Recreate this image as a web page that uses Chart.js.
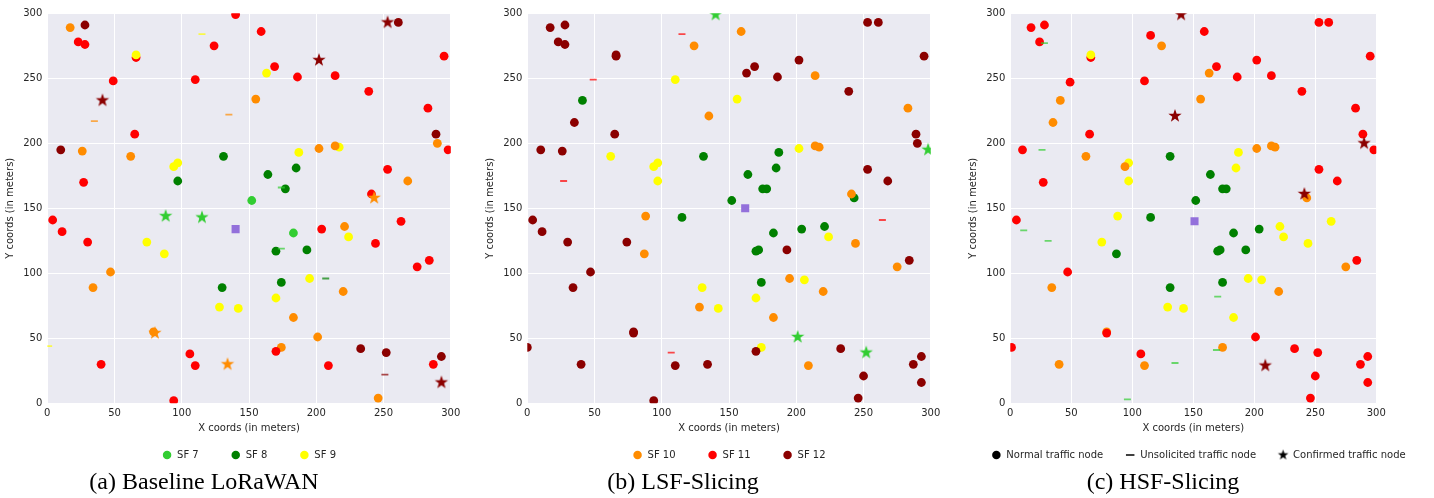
<!DOCTYPE html>
<html>
<head>
<meta charset="utf-8">
<script src="https://cdn.jsdelivr.net/npm/chart.js@4.4.1/dist/chart.umd.min.js"></script>
<style>
  body { margin: 0; background: #fff; width: 1434px; height: 498px; position: relative; overflow: hidden; }
  canvas { position: absolute; top: 0; }
  .cap { position: absolute; top: 466px; width: 400px; text-align: center; font-family: 'Liberation Serif', serif; font-size: 24px; line-height: 30px; color: #000; }
</style>
</head>
<body>
<canvas id="baseline" width="470" height="470" style="left:0px"></canvas>
<canvas id="lsf" width="470" height="470" style="left:480px"></canvas>
<canvas id="hsf" width="471" height="470" style="left:963px"></canvas>
<div class="cap" style="left:4px">(a) Baseline LoRaWAN</div>
<div class="cap" style="left:483px">(b) LSF-Slicing</div>
<div class="cap" style="left:963px">(c) HSF-Slicing</div>
<script>
// node = [x, y, spreading factor, kind]   kind: n = normal, u = unsolicited, c = confirmed
const baselineNodes = [
  [17,289,10,'n'], [28,291,12,'n'], [23,278,11,'n'], [28,276,11,'n'], [66,266,11,'n'], [66,268,9,'n'],
  [115,284,9,'u'], [124,275,11,'n'], [140,299,11,'n'], [49,248,11,'n'], [110,249,11,'n'], [41,233,12,'c'],
  [35,217,10,'u'], [135,222,10,'u'], [155,234,10,'n'], [65,207,11,'n'], [10,195,12,'n'], [26,194,10,'n'],
  [62,190,10,'n'], [97,185,9,'n'], [94,182,9,'n'], [131,190,8,'n'], [97,171,8,'n'], [27,170,11,'n'],
  [152,156,7,'n'], [159,286,11,'n'], [169,259,11,'n'], [163,254,9,'n'], [186,251,11,'n'], [202,264,12,'c'],
  [214,252,11,'n'], [253,293,12,'c'], [261,293,12,'n'], [295,267,11,'n'], [239,240,11,'n'], [283,227,11,'n'],
  [289,207,12,'n'], [290,200,10,'n'], [298,195,11,'n'], [187,193,9,'n'], [202,196,10,'n'], [217,197,9,'n'],
  [214,198,10,'n'], [164,176,8,'n'], [185,181,8,'n'], [174,166,7,'u'], [177,165,8,'n'], [253,180,11,'n'],
  [268,171,10,'n'], [241,161,11,'n'], [243,158,10,'c'],
  [4,141,11,'n'], [11,132,11,'n'], [30,124,11,'n'], [88,144,7,'c'], [115,143,7,'c'], [74,124,9,'n'],
  [87,115,9,'n'], [47,101,10,'n'], [34,89,10,'n'], [130,89,8,'n'], [128,74,9,'n'], [142,73,9,'n'],
  [79,55,10,'n'], [80,54,10,'c'], [1,44,9,'u'], [40,30,11,'n'], [106,38,11,'n'], [110,29,11,'n'],
  [134,30,10,'c'], [94,2,11,'n'],
  [183,131,7,'n'], [204,134,11,'n'], [221,136,10,'n'], [224,128,9,'n'], [263,140,11,'n'], [244,123,11,'n'],
  [284,110,11,'n'], [275,105,11,'n'], [170,117,8,'n'], [174,119,7,'u'], [193,118,8,'n'], [174,93,8,'n'],
  [195,96,9,'n'], [207,96,8,'u'], [170,81,9,'n'], [220,86,10,'n'], [183,66,10,'n'], [201,51,10,'n'],
  [174,43,10,'n'], [170,40,11,'n'], [209,29,11,'n'], [233,42,12,'n'], [252,39,12,'n'], [251,22,12,'u'],
  [246,4,10,'n'], [287,30,11,'n'], [293,36,12,'n'], [293,16,12,'c']
];
const lsfNodes = [
  [17,289,12,'n'], [28,291,12,'n'], [23,278,12,'n'], [28,276,12,'n'], [66,267,12,'n'], [66,268,12,'n'],
  [115,284,11,'u'], [124,275,10,'n'], [140,299,7,'c'], [49,249,11,'u'], [110,249,9,'n'], [41,233,8,'n'],
  [156,234,9,'n'], [135,221,10,'n'], [35,216,12,'n'], [65,207,12,'n'], [10,195,12,'n'], [26,194,12,'n'],
  [27,171,11,'u'], [62,190,9,'n'], [97,185,9,'n'], [94,182,9,'n'], [97,171,9,'n'], [131,190,8,'n'],
  [152,156,8,'n'], [159,286,10,'n'], [169,259,12,'n'], [163,254,12,'n'], [186,251,12,'n'], [202,264,12,'n'],
  [214,252,10,'n'], [253,293,12,'n'], [261,293,12,'n'], [295,267,12,'n'], [239,240,12,'n'], [283,227,10,'n'],
  [289,207,12,'n'], [290,200,12,'n'], [298,195,7,'c'], [187,193,8,'n'], [202,196,9,'n'], [214,198,10,'n'],
  [217,197,10,'n'], [164,176,8,'n'], [185,181,8,'n'], [175,165,8,'n'], [178,165,8,'n'], [253,180,12,'n'],
  [268,171,12,'n'], [243,158,8,'n'], [241,161,10,'n'],
  [4,141,12,'n'], [11,132,12,'n'], [30,124,12,'n'], [88,144,10,'n'], [115,143,8,'n'], [74,124,12,'n'],
  [87,115,10,'n'], [47,101,12,'n'], [34,89,12,'n'], [130,89,9,'n'], [128,74,10,'n'], [142,73,9,'n'],
  [79,55,12,'n'], [79,54,12,'n'], [0,43,12,'n'], [40,30,12,'n'], [107,39,11,'u'], [110,29,12,'n'],
  [134,30,12,'n'], [94,2,12,'n'],
  [183,131,8,'n'], [204,134,8,'n'], [221,136,8,'n'], [224,128,9,'n'], [264,141,11,'u'], [244,123,10,'n'],
  [284,110,12,'n'], [275,105,10,'n'], [170,117,8,'n'], [172,118,8,'n'], [193,118,12,'n'], [174,93,8,'n'],
  [195,96,10,'n'], [206,95,9,'n'], [170,81,9,'n'], [220,86,10,'n'], [183,66,10,'n'], [201,51,7,'c'],
  [252,39,7,'c'], [174,43,9,'n'], [170,40,12,'n'], [209,29,10,'n'], [233,42,12,'n'], [250,21,12,'n'],
  [246,4,12,'n'], [287,30,12,'n'], [293,36,12,'n'], [293,16,12,'n']
];
const hsfNodes = [
  [17,289,11,'n'], [28,291,11,'n'], [24,278,11,'n'], [28,277,7,'u'], [66,266,11,'n'], [66,268,9,'n'],
  [115,283,11,'n'], [124,275,10,'n'], [140,299,12,'c'], [49,247,11,'n'], [110,248,11,'n'], [41,233,10,'n'],
  [135,221,12,'c'], [35,216,10,'n'], [65,207,11,'n'], [10,195,11,'n'], [26,195,7,'u'], [62,190,10,'n'],
  [97,185,9,'n'], [94,182,10,'n'], [97,171,9,'n'], [131,190,8,'n'], [27,170,11,'n'], [152,156,8,'n'],
  [159,286,11,'n'], [169,259,11,'n'], [163,254,10,'n'], [186,251,11,'n'], [202,264,11,'n'], [214,252,11,'n'],
  [253,293,11,'n'], [261,293,11,'n'], [295,267,11,'n'], [156,234,10,'n'], [239,240,11,'n'], [283,227,11,'n'],
  [289,207,11,'n'], [290,200,12,'c'], [298,195,11,'n'], [187,193,9,'n'], [202,196,10,'n'], [214,198,10,'n'],
  [217,197,10,'n'], [164,176,8,'n'], [185,181,9,'n'], [174,165,8,'n'], [177,165,8,'n'], [253,180,11,'n'],
  [268,171,11,'n'], [241,161,12,'c'], [243,158,10,'n'],
  [5,141,11,'n'], [11,133,7,'u'], [31,125,7,'u'], [88,144,9,'n'], [115,143,8,'n'], [75,124,9,'n'],
  [87,115,8,'n'], [47,101,11,'n'], [34,89,10,'n'], [131,89,8,'n'], [129,74,9,'n'], [142,73,9,'n'],
  [79,55,10,'n'], [79,54,11,'n'], [1,43,11,'n'], [40,30,10,'n'], [107,38,11,'n'], [110,29,10,'n'],
  [135,31,7,'u'], [96,3,7,'u'],
  [183,131,8,'n'], [204,134,8,'n'], [221,136,9,'n'], [224,128,9,'n'], [263,140,9,'n'], [244,123,9,'n'],
  [284,110,11,'n'], [275,105,10,'n'], [170,117,8,'n'], [172,118,8,'n'], [193,118,8,'n'], [174,93,8,'n'],
  [195,96,9,'n'], [206,95,9,'n'], [170,82,7,'u'], [220,86,10,'n'], [183,66,9,'n'], [201,51,11,'n'],
  [169,41,7,'u'], [174,43,10,'n'], [233,42,11,'n'], [252,39,11,'n'], [209,29,12,'c'], [250,21,11,'n'],
  [246,4,11,'n'], [287,30,11,'n'], [293,36,11,'n'], [293,16,11,'n']
];
const baselineGateway = [140, 134];
const lsfGateway = [162, 150];
const hsfGateway = [151, 140];

const baselineLegendSF = [7, 8, 9];
const lsfLegendSF = [10, 11, 12];
const nodeKinds = ['n', 'u', 'c'];
const nodeKindLabels = ['Normal traffic node', 'Unsolicited traffic node', 'Confirmed traffic node'];

const sfColor = { 7: '#32CD32', 8: '#008000', 9: '#FFFF00', 10: '#FF8C00', 11: '#FF0000', 12: '#8B0000' };
const sfDash = { 7: 'rgba(50,205,50,0.7)', 8: 'rgba(0,128,0,0.7)', 9: 'rgba(255,255,0,0.7)',
                 10: 'rgba(255,140,0,0.7)', 11: 'rgba(255,0,0,0.7)', 12: 'rgba(139,0,0,0.7)' };
const TEXT = '#262626';

// filled five point star, chart.js's own 'star' is only a cross
function starImage(color, r) {
  const size = Math.ceil(r * 2 + 2);
  const c = document.createElement('canvas');
  c.width = c.height = size;
  const g = c.getContext('2d');
  g.fillStyle = color;
  g.beginPath();
  for (let i = 0; i < 10; i++) {
    const rad = i % 2 === 0 ? r : r * 0.4;
    const a = -Math.PI / 2 + i * Math.PI / 5;
    const px = size / 2 + rad * Math.cos(a), py = size / 2 + rad * Math.sin(a);
    if (i === 0) g.moveTo(px, py); else g.lineTo(px, py);
  }
  g.closePath();
  g.fill();
  return c;
}
const stars = {};
Object.keys(sfColor).forEach(sf => { stars[sf] = starImage(sfColor[sf], 7); });
const legendStar = starImage('#000', 5.5);

Chart.defaults.font.family = "'DejaVu Sans', sans-serif";
Chart.defaults.font.size = 10;
Chart.defaults.color = TEXT;

const plotBg = {
  id: 'plotBg',
  beforeDraw(chart) {
    const { ctx, chartArea: a } = chart;
    ctx.save();
    ctx.fillStyle = '#EAEAF2';
    ctx.fillRect(a.left, a.top, a.width, a.height);
    ctx.restore();
  }
};

function sfLegend(list) {
  return list.map(sf => ({
    label: 'SF ' + sf, data: [], pointStyle: 'circle',
    pointBackgroundColor: sfColor[sf], pointBorderColor: sfColor[sf], pointBorderWidth: 0
  }));
}
function kindLegend() {
  const styles = { n: 'circle', u: 'line', c: legendStar };
  return nodeKinds.map((k, i) => ({
    label: nodeKindLabels[i], data: [], pointStyle: styles[k],
    pointBackgroundColor: '#000', pointBorderColor: '#000', pointBorderWidth: k === 'u' ? 1.5 : 0
  }));
}

// legend gap doubles as its top padding, so the x axis box shrinks to keep the legend row at y=455
function makeChart(id, nodes, gateway, legendSets, wide, gap) {
  const pick = kind => nodes.filter(n => n[3] === kind).map(n => ({ x: n[0], y: n[1], sf: n[2] }));
  const datasets = [
    { label: '', data: pick('c'), pointStyle: c => (c.raw ? stars[c.raw.sf] : 'circle'),
      pointRadius: 7, pointBorderWidth: 0, clip: 0 },
    { label: '', data: pick('u'), pointStyle: 'line', pointRadius: 3.5, pointBorderWidth: 1.8,
      pointBorderColor: c => (c.raw ? sfDash[c.raw.sf] : '#000'), clip: 0 },
    { label: '', data: pick('n'), pointStyle: 'circle', pointRadius: 4.4, pointBorderWidth: 0,
      pointBackgroundColor: c => (c.raw ? sfColor[c.raw.sf] : '#000'), clip: 0 },
    { label: '', data: [{ x: gateway[0], y: gateway[1] }], pointStyle: 'rect', pointRadius: 5.7,
      pointBorderWidth: 0, pointBackgroundColor: '#9370DB', clip: 0 },
    ...legendSets
  ];
  const xAxisH = 46.7 - gap;
  const scales = {
    x: {
      type: 'linear', min: 0, max: 300,
      ticks: { stepSize: 50, padding: 4, color: TEXT },
      grid: { color: '#FFFFFF', lineWidth: 1, drawTicks: false },
      border: { display: false },
      title: { display: true, text: 'X coords (in meters)', color: TEXT, padding: { top: 0, bottom: 16 - gap } },
      afterFit: s => { s.height = xAxisH; }
    },
    y: {
      type: 'linear', min: 0, max: 300,
      ticks: { stepSize: 50, padding: 5, color: TEXT },
      grid: { color: '#FFFFFF', lineWidth: 1, drawTicks: false },
      border: { display: false },
      title: { display: true, text: 'Y coords (in meters)', color: TEXT, padding: { top: 4, bottom: 0 } },
      afterFit: s => { s.width = 47.3; }
    }
  };
  if (wide) {
    scales.yRight = {
      type: 'linear', position: 'right', min: 0, max: 300, display: true,
      ticks: { display: false }, grid: { display: false }, border: { display: false },
      afterFit: s => { s.width = 57.7; }
    };
  }
  return new Chart(document.getElementById(id), {
    type: 'scatter',
    data: { datasets },
    options: {
      responsive: false, animation: false, events: [], devicePixelRatio: 1,
      layout: { padding: { top: 13.3, right: wide ? 0 : 19.2, left: 0, bottom: 0 } },
      scales,
      plugins: {
        tooltip: { enabled: false },
        legend: {
          position: 'bottom', align: 'center', fullSize: !!wide,
          labels: {
            usePointStyle: true, boxWidth: 10, boxHeight: 6, padding: gap, color: TEXT,
            filter: item => !!item.text
          }
        }
      }
    },
    plugins: [plotBg]
  });
}

makeChart('baseline', baselineNodes, baselineGateway, sfLegend(baselineLegendSF), false, 32);
makeChart('lsf', lsfNodes, lsfGateway, sfLegend(lsfLegendSF), false, 32);
makeChart('hsf', hsfNodes, hsfGateway, kindLegend(), true, 22);
</script>
</body>
</html>
